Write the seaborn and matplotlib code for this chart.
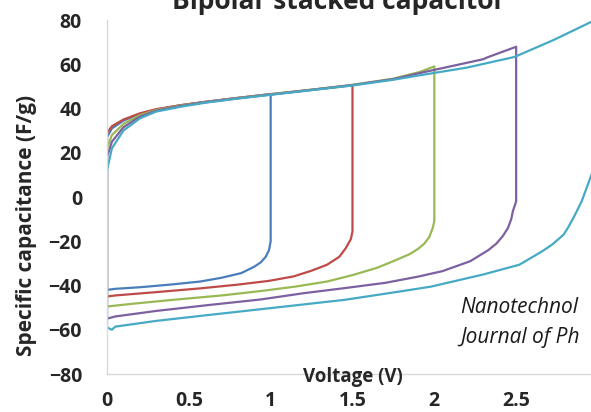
import matplotlib
matplotlib.use('Agg')
import matplotlib.pyplot as plt
import seaborn as sns
import pandas as pd

# voltage windows (V) and Excel-like line colours
windows = ['1.0 V', '1.5 V', '2.0 V', '2.5 V', '3.0 V']
colors = ['#4A7EBB', '#BE4B48', '#98B954', '#7D60A0', '#46AAC5']

# CV loops: charge branch, then discharge branch back to 0 V
v_1 = [0, 0, 0.03, 0.1, 0.2, 0.3, 0.45, 0.6, 0.8, 1.0,
       1.0, 0.99, 0.97, 0.94, 0.9, 0.82, 0.7, 0.57, 0.4, 0.2, 0.05, 0]
c_1 = [-42, 27, 31, 34.5, 37.5, 39.5, 41.5, 43, 44.8, 46.5,
       -20, -24, -27, -29.5, -31.5, -34.4, -36.5, -38.2, -39.5, -40.8, -41.5, -42]

v_15 = [0, 0, 0.03, 0.1, 0.2, 0.3, 0.45, 0.6, 0.8, 1.0, 1.25, 1.5,
        1.5, 1.49, 1.46, 1.42, 1.345, 1.25, 1.14, 0.99, 0.8, 0.57, 0.3, 0.05, 0]
c_15 = [-45, 29, 32, 35, 37.8, 39.7, 41.5, 43, 44.8, 46.5, 48.5, 50.5,
        -15.5, -19, -23, -27, -30.6, -33.3, -35.9, -37.9, -39.6, -41.3, -43, -44.5, -45]

v_2 = [0, 0, 0.03, 0.1, 0.2, 0.3, 0.45, 0.6, 0.8, 1.0, 1.25, 1.5, 1.75, 1.91, 2.0,
       2.0, 1.99, 1.97, 1.94, 1.9, 1.85, 1.75, 1.65, 1.5, 1.345, 1.15, 0.94, 0.7, 0.4, 0.15, 0]
c_2 = [-49.5, 22, 28, 33, 37, 39.3, 41.3, 42.9, 44.7, 46.4, 48.5, 50.7, 53.5, 56.5, 59,
       -11, -14, -18, -21, -23.5, -25.8, -29, -32, -35.3, -38.2, -40.5, -42.5, -44.5, -46.5, -48.3, -49.5]

v_25 = [0, 0, 0.03, 0.1, 0.2, 0.3, 0.45, 0.6, 0.8, 1.0, 1.25, 1.5, 1.75, 1.91, 2.22, 2.3, 2.32, 2.5,
        2.5, 2.48, 2.47, 2.45, 2.42, 2.38, 2.33, 2.22, 2.05, 1.9, 1.7, 1.45, 1.2, 0.94, 0.6, 0.3, 0.05, 0]
c_25 = [-55, 18, 25, 31.5, 36.3, 39, 41.1, 42.8, 44.6, 46.3, 48.4, 50.6, 53.3, 56, 61, 62.3, 63, 67.9,
        -2, -6.4, -10, -14, -17.5, -21, -24, -29, -33.5, -36, -38.8, -41.2, -43.5, -46.3, -49, -51.5, -54, -55]

v_3 = [0, 0, 0.03, 0.1, 0.2, 0.3, 0.45, 0.6, 0.8, 1.0, 1.25, 1.5, 1.75, 1.91, 2.2, 2.49, 2.73, 2.96, 3.0,
       3.0, 2.96, 2.93, 2.9, 2.86, 2.82, 2.79, 2.72, 2.66, 2.52, 2.3, 1.98, 1.79, 1.45, 0.99, 0.6, 0.3,
       0.05, 0.03, 0]
c_3 = [-59, 12, 22, 30, 35.5, 38.6, 40.8, 42.6, 44.5, 46.2, 48.3, 50.4, 53, 55, 58.5, 63.3, 71, 79.2, 81,
       15, 10, 4, -2, -8, -13.5, -17, -21.5, -24.5, -30.6, -35, -40.5, -42.7, -46.5, -50.3, -53.5, -56,
       -58.6, -60, -59]

frames = []
for name, v, c in zip(windows, [v_1, v_15, v_2, v_25, v_3], [c_1, c_15, c_2, c_25, c_3]):
    frames.append(pd.DataFrame({'Voltage': v, 'Capacitance': c, 'window': name}))
df = pd.concat(frames, ignore_index=True)

sns.set_theme(style='white')
plt.rcParams['font.family'] = ['Open Sans', 'DejaVu Sans']

W, H = 591, 412
fig = plt.figure(figsize=(W / 100, H / 100), dpi=100)
ax = fig.add_axes([107 / W, (H - 374) / H, (W - 107) / W, (374 - 20) / H])

sns.lineplot(data=df, x='Voltage', y='Capacitance', hue='window', palette=colors,
             sort=False, estimator=None, linewidth=1.6, legend=False, ax=ax)

ax.set_xlim(0, (W - 106) / 164)
ax.set_ylim(-80, 80)
ax.set_xticks([0, 0.5, 1, 1.5, 2, 2.5])
ax.set_xticklabels(['0', '0.5', '1', '1.5', '2', '2.5'])
ax.set_yticks(range(-80, 81, 20))
ax.tick_params(axis='both', length=0, labelsize=14)
ax.tick_params(axis='x', pad=12)
ax.tick_params(axis='y', pad=18)
for lbl in ax.get_xticklabels() + ax.get_yticklabels():
    lbl.set_fontweight('bold')
ax.set_xlabel('')
ax.set_ylabel('')

for side in ['top', 'right']:
    ax.spines[side].set_visible(False)
for side in ['left', 'bottom']:
    ax.spines[side].set_color('#D9D9D9')
    ax.spines[side].set_linewidth(1.0)

fig.text(353 / W, 1 - 377 / H, 'Voltage (V)', ha='center', va='center',
         fontsize=13.5, fontweight='bold')
fig.text(27 / W, 1 - 225 / H, 'Specific capacitance (F/g)', ha='center', va='center',
         rotation=90, fontsize=15, fontweight='bold')
fig.text(339 / W, 1 - 9 / H, 'Bipolar stacked capacitor', ha='center', va='baseline',
         fontsize=19, fontweight='bold')
fig.text(460 / W, 1 - 313 / H, 'Nanotechnol', ha='left', va='baseline',
         fontsize=15, style='italic', color='#1a1a1a')
fig.text(460 / W, 1 - 343 / H, 'Journal of Ph', ha='left', va='baseline',
         fontsize=15, style='italic', color='#1a1a1a')

fig.savefig('out.png', dpi=100)
